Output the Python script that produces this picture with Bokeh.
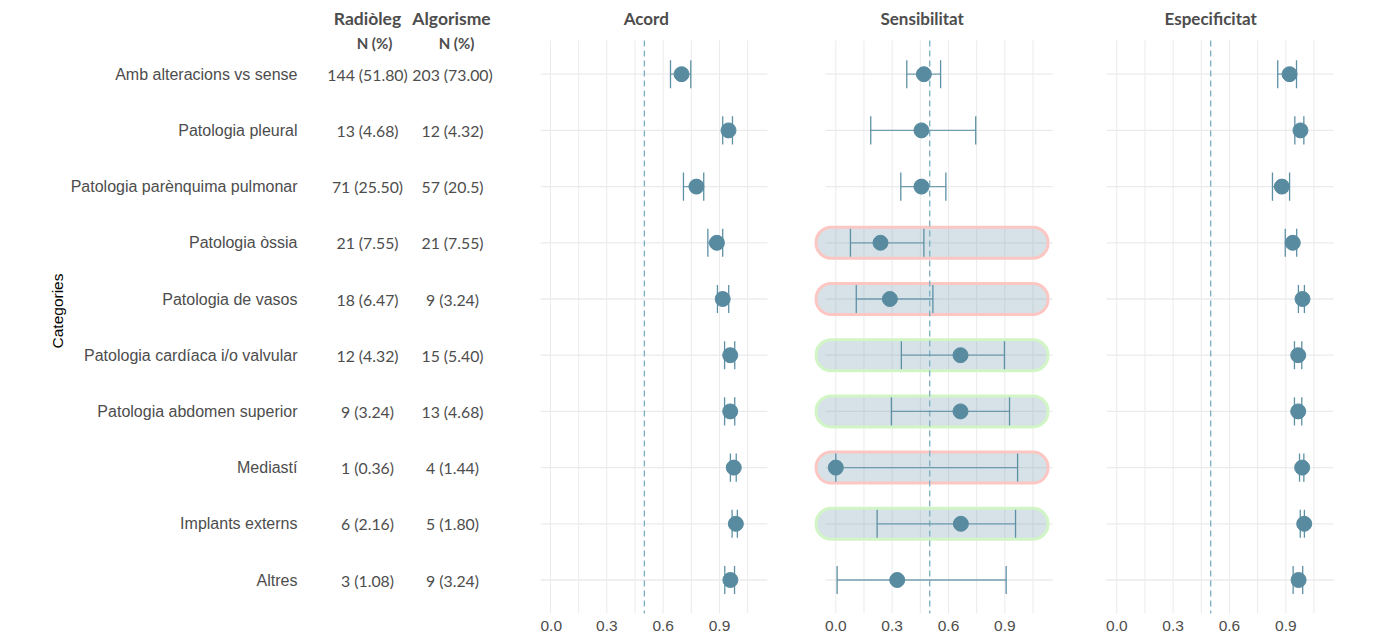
from bokeh.plotting import figure
from bokeh.models import Range1d, FixedTicker, ColumnDataSource
from bokeh.layouts import row
from bokeh.embed import file_html
from bokeh.resources import INLINE
from bokeh.core.properties import value

# ---------------- data ----------------
categories = ["Amb alteracions vs sense", "Patologia pleural", "Patologia parènquima pulmonar",
              "Patologia òssia", "Patologia de vasos", "Patologia cardíaca i/o valvular",
              "Patologia abdomen superior", "Mediastí", "Implants externs", "Altres"]

radioleg_n = ["144 (51.80)", "13 (4.68)", "71 (25.50)", "21 (7.55)", "18 (6.47)",
              "12 (4.32)", "9 (3.24)", "1 (0.36)", "6 (2.16)", "3 (1.08)"]
algorisme_n = ["203 (73.00)", "12 (4.32)", "57 (20.5)", "21 (7.55)", "9 (3.24)",
               "15 (5.40)", "13 (4.68)", "4 (1.44)", "5 (1.80)", "9 (3.24)"]

acord = [0.698, 0.948, 0.777, 0.886, 0.917, 0.957, 0.957, 0.976, 0.987, 0.958]
acord_lo = [0.639, 0.917, 0.708, 0.838, 0.889, 0.927, 0.927, 0.958, 0.967, 0.928]
acord_hi = [0.747, 0.969, 0.816, 0.917, 0.949, 0.981, 0.981, 0.989, 0.995, 0.980]

sens = [0.469, 0.456, 0.456, 0.238, 0.288, 0.664, 0.664, 0.0, 0.666, 0.327]
sens_lo = [0.378, 0.186, 0.346, 0.078, 0.109, 0.349, 0.296, 0.0, 0.220, 0.007]
sens_hi = [0.558, 0.745, 0.586, 0.469, 0.517, 0.898, 0.925, 0.968, 0.957, 0.907]

esp = [0.920, 0.978, 0.879, 0.937, 0.989, 0.966, 0.966, 0.987, 0.998, 0.968]
esp_lo = [0.857, 0.948, 0.829, 0.897, 0.967, 0.946, 0.946, 0.973, 0.977, 0.939]
esp_hi = [0.957, 0.996, 0.920, 0.958, 0.999, 0.985, 0.985, 0.996, 0.999, 0.990]

# highlight of the sensitivity rows ("red" / "green" / "")
highlight = ["", "", "", "red", "red", "green", "green", "red", "green", ""]

panel_titles = ["Acord", "Sensibilitat", "Especificitat"]
x_ticks = [0.0, 0.3, 0.6, 0.9]
x_grid = [0.0, 0.15, 0.3, 0.45, 0.6, 0.75, 0.9, 1.05]
reference_line = 0.5

# ---------------- style ----------------
rows = list(range(1, len(categories) + 1))
Y_BOTTOM, Y_TOP = 10.596, -0.169
FRAME_H = 605
GRID = "#EBEBEB"
POINT = "#588BA0"
BAR = "#5E90A5"
DASH = "#7AADC2"
TXT = "#4D4D4D"
HEAD_FONT = "Lato"
AX_FONT = "Liberation Sans"
BORDER = {"red": "#FCC6C2", "green": "#D2F5C6"}


def base_fig(fw, xr, left=0, **kw):
    p = figure(frame_width=fw, frame_height=FRAME_H, x_range=xr,
               y_range=Range1d(Y_BOTTOM, Y_TOP), output_backend="svg",
               toolbar_location=None, min_border_left=left, min_border_right=0,
               min_border_top=8, min_border_bottom=19, **kw)
    p.outline_line_color = None
    p.background_fill_color = "white"
    p.border_fill_color = "white"
    return p


# ---------------- left table ----------------
pa = base_fig(237, Range1d(303, 540), left=303, x_axis_location=None, y_axis_location="left")
pa.grid.visible = False
ya = pa.yaxis[0]
ya.ticker = FixedTicker(ticks=rows)
ya.major_label_overrides = {r: c for r, c in zip(rows, categories)}
ya.axis_line_color = None
ya.major_tick_line_color = None
ya.minor_tick_line_color = None
ya.major_label_standoff = 0
ya.major_label_text_font = AX_FONT
ya.major_label_text_font_size = "16px"
ya.major_label_text_color = TXT
ya.axis_label = "Categories"
ya.axis_label_standoff = 2
ya.axis_label_text_font = AX_FONT
ya.axis_label_text_font_style = "normal"
ya.axis_label_text_font_size = "15.5px"
ya.axis_label_text_color = "black"

tsrc = ColumnDataSource(dict(y=rows, rad=radioleg_n, alg=algorisme_n))
pa.text(x=367, y="y", text="rad", source=tsrc, text_align="center", text_baseline="middle",
        text_font=value(HEAD_FONT), text_font_size="15.8px", text_color=TXT)
pa.text(x=452, y="y", text="alg", source=tsrc, text_align="center", text_baseline="middle",
        text_font=value(HEAD_FONT), text_font_size="15.8px", text_color=TXT)
pa.text(x=[367, 451], y=[0.009, 0.009], text=["Radiòleg", "Algorisme"], text_align="center",
        text_baseline="middle", text_font=value(HEAD_FONT), text_font_style="bold",
        text_font_size="17.5px", text_color=TXT)
pa.text(x=[374, 456], y=[0.436, 0.436], text=["N (%)", "N (%)"], text_align="center",
        text_baseline="middle", text_font=value(HEAD_FONT), text_font_style="bold",
        text_font_size="15px", text_color=TXT)


# ---------------- panels ----------------
def panel(title, est, lo, hi, xs, fw, tx, hl=None):
    scale = 187.8
    p = base_fig(fw, Range1d(xs, xs + fw / scale), y_axis_location=None)
    p.grid.visible = False
    p.segment(x0=x_grid, y0=0.4, x1=x_grid, y1=10.6, line_color=GRID, line_width=1)
    p.segment(x0=-0.055, y0=rows, x1=1.155, y1=rows, line_color=GRID, line_width=1.3)
    if hl is not None:
        hy = [r for r, h in zip(rows, hl) if h]
        hc = [BORDER[h] for h in hl if h]
        p.rect(x=0.5125, y=hy, width=1.235, height=0.552, border_radius=15,
               fill_color="#5B8BA0", fill_alpha=0.25, line_color=hc, line_width=3)
    p.segment(x0=reference_line, y0=0.4, x1=reference_line, y1=10.6, line_color=DASH,
              line_width=1.3, line_dash="6 4")
    src = ColumnDataSource(dict(y=rows, est=est, lo=lo, hi=hi,
                                yl=[r - 0.25 for r in rows], yh=[r + 0.25 for r in rows]))
    p.segment(x0="lo", y0="y", x1="hi", y1="y", source=src, line_color=BAR, line_width=1.3, line_alpha=0.85)
    p.segment(x0="lo", y0="yl", x1="lo", y1="yh", source=src, line_color=BAR, line_width=1.3)
    p.segment(x0="hi", y0="yl", x1="hi", y1="yh", source=src, line_color=BAR, line_width=1.3)
    p.scatter(x="est", y="y", source=src, size=15, fill_color=POINT, line_color=POINT)
    p.text(x=[tx], y=[0.009], text=[title], text_align="center", text_baseline="middle",
           text_font=value(HEAD_FONT), text_font_style="bold", text_font_size="17px", text_color=TXT)
    xa = p.xaxis[0]
    xa.ticker = FixedTicker(ticks=x_ticks)
    xa.major_label_overrides = {t: f"{t:.1f}" for t in x_ticks}
    xa.axis_line_color = None
    xa.major_tick_line_color = None
    xa.minor_tick_line_color = None
    xa.major_label_standoff = 1
    xa.major_label_text_font = AX_FONT
    xa.major_label_text_font_size = "15.5px"
    xa.major_label_text_color = TXT
    return p


p1 = panel(panel_titles[0], acord, acord_lo, acord_hi, -0.0532, 260, 0.51)
p2 = panel(panel_titles[1], sens, sens_lo, sens_hi, -0.188, 290, 0.46, hl=highlight)
p3 = panel(panel_titles[2], esp, esp_lo, esp_hi, -0.140, 290, 0.50)

layout = row(pa, p1, p2, p3)
open("out.html", "w").write(file_html(layout, INLINE))
